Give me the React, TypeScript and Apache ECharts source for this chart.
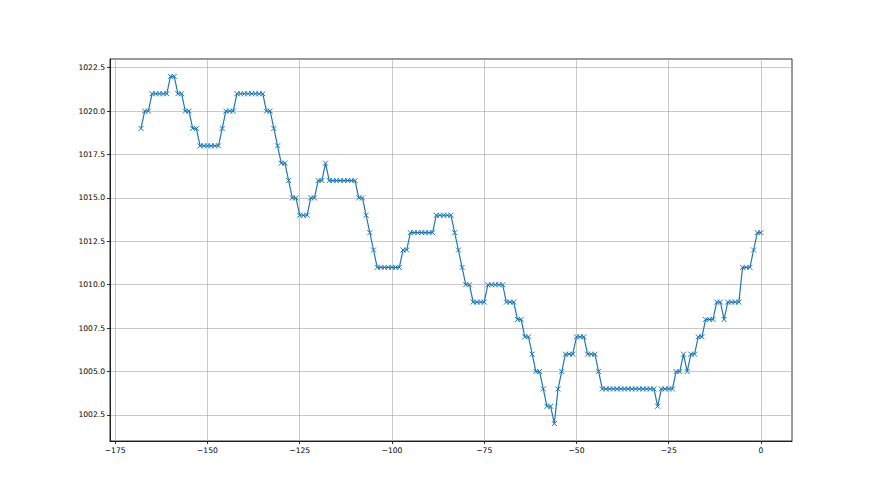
import React, { useEffect, useRef } from "react";
import * as echarts from "echarts";

// hours before now (-168 .. 0)
const hours: number[] = Array.from({ length: 169 }, (_, i) => i - 168);

// pressure readings (hPa), one per hour
const pressure: number[] = [
  1019,
  1020, 1020,
  1021, 1021, 1021, 1021, 1021,
  1022, 1022,
  1021, 1021,
  1020, 1020,
  1019, 1019,
  1018, 1018, 1018, 1018, 1018, 1018,
  1019,
  1020, 1020, 1020,
  1021, 1021, 1021, 1021, 1021, 1021, 1021, 1021,
  1020, 1020,
  1019,
  1018,
  1017, 1017,
  1016,
  1015, 1015,
  1014, 1014, 1014,
  1015, 1015,
  1016, 1016,
  1017,
  1016, 1016, 1016, 1016, 1016, 1016, 1016, 1016,
  1015, 1015,
  1014,
  1013,
  1012,
  1011, 1011, 1011, 1011, 1011, 1011, 1011,
  1012, 1012,
  1013, 1013, 1013, 1013, 1013, 1013, 1013,
  1014, 1014, 1014, 1014, 1014,
  1013,
  1012,
  1011,
  1010, 1010,
  1009, 1009, 1009, 1009,
  1010, 1010, 1010, 1010, 1010,
  1009, 1009, 1009,
  1008, 1008,
  1007, 1007,
  1006,
  1005, 1005,
  1004,
  1003, 1003,
  1002,
  1004,
  1005,
  1006, 1006, 1006,
  1007, 1007, 1007,
  1006, 1006, 1006,
  1005,
  1004, 1004, 1004, 1004, 1004, 1004, 1004, 1004, 1004, 1004, 1004, 1004, 1004, 1004, 1004,
  1003,
  1004, 1004, 1004, 1004,
  1005, 1005,
  1006,
  1005,
  1006, 1006,
  1007, 1007,
  1008, 1008, 1008,
  1009, 1009,
  1008,
  1009, 1009, 1009, 1009,
  1011, 1011, 1011,
  1012,
  1013, 1013,
];

const xTicks: number[] = [-175, -150, -125, -100, -75, -50, -25, 0];
const yTicks: number[] = [1002.5, 1005, 1007.5, 1010, 1012.5, 1015, 1017.5, 1020, 1022.5];

const FONT = "DejaVu Sans";

export default function App() {
  const ref = useRef<HTMLDivElement>(null);
  useEffect(() => {
    if (!ref.current) return;
    const chart = echarts.init(ref.current, null, { renderer: "svg" });
    const data = hours.map((h, i) => [h, pressure[i]]);
    chart.setOption({
      animation: false,
      backgroundColor: "#ffffff",
      grid: {
        left: 110,
        top: 59,
        width: 682,
        height: 382,
        show: true,
        borderColor: "#000000",
        borderWidth: 0.8,
        backgroundColor: "transparent",
      },
      xAxis: {
        type: "value",
        min: -176.4,
        max: 8.4,
        axisLine: { show: true, onZero: false, lineStyle: { color: "#000", width: 0.8 } },
        axisTick: { show: true, customValues: xTicks, length: 3, lineStyle: { color: "#000", width: 0.8 } },
        axisLabel: {
          customValues: xTicks,
          color: "#000",
          fontFamily: FONT,
          fontSize: 7.6,
          margin: 5,
          formatter: (v: number) => String(v).replace("-", "\u2212"),
        },
        splitLine: { show: true, lineStyle: { color: "#b0b0b0", width: 0.7 } },
      },
      yAxis: {
        type: "value",
        min: 1001,
        max: 1023,
        axisLine: { show: true, onZero: false, lineStyle: { color: "#000", width: 0.8 } },
        axisTick: { show: true, customValues: yTicks, length: 3, lineStyle: { color: "#000", width: 0.8 } },
        axisLabel: {
          customValues: yTicks,
          color: "#000",
          fontFamily: FONT,
          fontSize: 7.6,
          margin: 5,
          formatter: (v: number) => v.toFixed(1),
        },
        splitLine: { show: true, lineStyle: { color: "#b0b0b0", width: 0.7 } },
      },
      series: [
        {
          type: "line",
          data,
          symbol: "path://M0,0L10,10M10,0L0,10",
          symbolSize: 5,
          showSymbol: true,
          lineStyle: { color: "#1f77b4", width: 1.2 },
          itemStyle: { color: "#1f77b4", borderColor: "#1f77b4", borderWidth: 1 },
        },
      ],
    });
    return () => chart.dispose();
  }, []);
  return (
    <div
      ref={ref}
      style={{ position: "fixed", left: 0, top: 0, width: 880, height: 495, background: "#fff" }}
    />
  );
}
